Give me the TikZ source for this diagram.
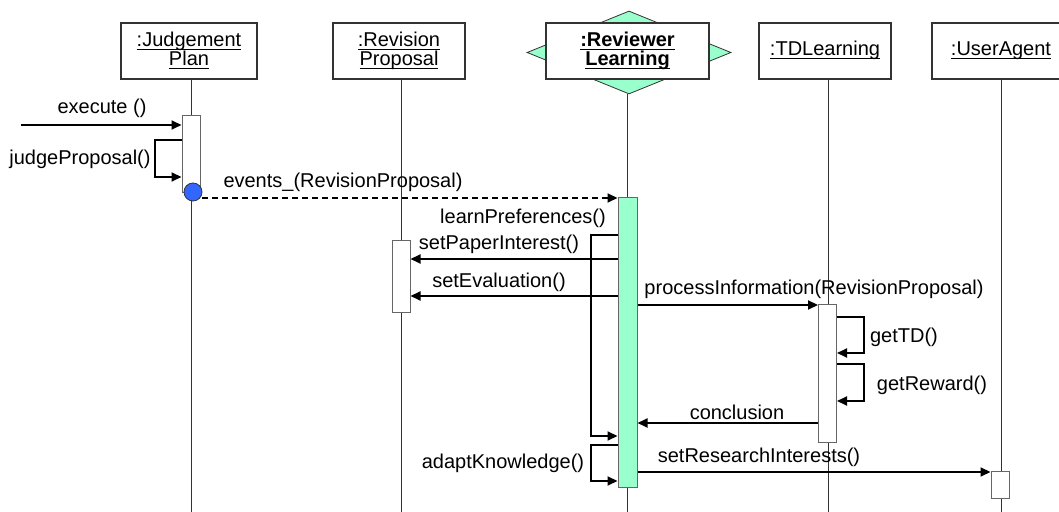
\documentclass[tikz,border=0pt]{standalone}
\usepackage{fontspec}
\setmainfont{Liberation Sans}
\usetikzlibrary{arrows.meta,shapes.geometric}
\definecolor{mint}{RGB}{153,255,204}
\definecolor{dotblue}{RGB}{51,102,255}
\newcommand{\uname}[1]{\underline{\smash{#1}\vphantom{A}}}

\begin{document}
\begin{tikzpicture}[
  x=0.5pt, y=-0.5pt,
  objnode/.style={rectangle, draw=black!80, fill=white, minimum height=28pt, inner sep=0pt, align=center, line width=0.6pt, font=\fontsize{10}{9.5}\selectfont},
  actnode/.style={rectangle, draw=black!60, fill=white, minimum width=9pt, inner sep=0pt, line width=0.5pt},
  labelnode/.style={inner sep=1pt},
  lifeline/.style={draw=black!80, line width=0.5pt},
  msg/.style={line width=1pt, -{Triangle[length=5pt,width=4.5pt]}}
  ]
  \useasboundingbox (0,0) rectangle (1059,512);
  \clip (0,0) rectangle (1059,512);

  % Objects
  \node[diamond, draw=black!80, fill=mint, minimum width=102pt, minimum height=41.5pt, inner sep=0pt] (RLdia) at (629,52.5) {};
  \node[objnode, minimum width=68pt]    (JP)    at (189,51)    {\uname{:Judgement}\\\uname{Plan}};
  \node[objnode, minimum width=66pt]    (RP)    at (399,51)    {\uname{:Revision}\\\uname{Proposal}};
  \node[objnode, minimum width=81.5pt]  (RL)    at (627.5,51)  {\textbf{\uname{:Reviewer}}\\\textbf{\uname{Learning}}};
  \node[objnode, minimum width=66pt]    (TD)    at (825,51)    {\uname{:TDLearning}};
  \node[objnode, minimum width=69pt]    (UA)    at (1001,51)   {\uname{:UserAgent}};

  % Lifelines
  \foreach \n/\x in {JP/191, RP/401, RL/627, TD/828, UA/1001} {
    \coordinate (\n-bot) at (\x,512);
  }
  \foreach \n in {JP, RP, TD, UA} {
    \draw[lifeline] (\n.south -| \n-bot) -- (\n-bot);
  }
  \draw[lifeline] (RLdia.south -| RL-bot) -- (RL-bot);

  % Activations
  \node[actnode, minimum height=38.5pt]                   (aJP)   at (191,154.5)  {};
  \node[actnode, minimum height=36pt]                     (aRP)   at (401,277)    {};
  \node[actnode, fill=mint, minimum width=9.5pt, minimum height=145pt] (aRL) at (627.5,343) {};
  \node[actnode, minimum height=69pt]                     (aTD)   at (827.5,374)  {};
  \node[actnode, minimum height=13pt]                     (aUA)   at (1000,485)   {};
  \node[circle, draw=black!80, fill=dotblue, minimum size=9pt, inner sep=0pt] (dot) at (193,192) {};

  % Message rows
  \coordinate (ext) at (21,125);
  \coordinate (r2)  at (0,140);
  \coordinate (r3)  at (0,177);
  \coordinate (r4)  at (0,198);
  \coordinate (r5)  at (0,235);
  \coordinate (r6)  at (0,259);
  \coordinate (r7)  at (0,296);
  \coordinate (r8)  at (0,305);
  \coordinate (r9)  at (0,317);
  \coordinate (r10) at (0,353);
  \coordinate (r11) at (0,364);
  \coordinate (r12) at (0,401);
  \coordinate (r13) at (0,423);
  \coordinate (r14) at (0,436);
  \coordinate (r15) at (0,445);
  \coordinate (r16) at (0,472);
  \coordinate (r17) at (0,481);

  % Messages
  \draw[msg] (ext) -- (aJP.west |- ext);
  \draw[msg] (aJP.west |- r2) -- ++(-27,0) |- (aJP.west |- r3);
  \draw[msg, dash pattern=on 3pt off 2pt] (dot.east |- r4) -- (aRL.west |- r4);
  \draw[msg] (aRL.west |- r5) -- ++(-27,0) |- (aRL.west |- r14);
  \draw[msg] (aRL.west |- r6) -- (aRP.east |- r6);
  \draw[msg] (aRL.west |- r7) -- (aRP.east |- r7);
  \draw[msg] (aRL.east |- r8) -- (aTD.west |- r8);
  \draw[msg] (aTD.east |- r9) -- ++(27,0) |- (aTD.east |- r10);
  \draw[msg] (aTD.east |- r11) -- ++(27,0) |- (aTD.east |- r12);
  \draw[msg] (aTD.west |- r13) -- (aRL.east |- r13);
  \draw[msg] (aRL.west |- r15) -- ++(-27,0) |- (aRL.west |- r17);
  \draw[msg] (aRL.east |- r16) -- (aUA.west |- r16);

  % Message labels
  \node[labelnode]  (lexec)   at (102,108)  {execute ()};
  \node[labelnode]  (ljudge)  at (80,159)   {judgeProposal()};
  \node[labelnode]  (levents) at (343,182)  {events\_(RevisionProposal)};
  \node[labelnode]  (llearn)  at (523,218)  {learnPreferences()};
  \node[labelnode]  (lpaper)  at (499,244)  {setPaperInterest()};
  \node[labelnode]  (leval)   at (499,282)  {setEvaluation()};
  \node[labelnode]  (lproc)   at (814,289)  {processInformation(RevisionProposal)};
  \node[labelnode]  (ltd)     at (904,337)  {getTD()};
  \node[labelnode]  (lrew)    at (932,385)  {getReward()};
  \node[labelnode]  (lconc)   at (737,412)  {conclusion};
  \node[labelnode]  (ladapt)  at (503,463)  {adaptKnowledge()};
  \node[labelnode]  (lres)    at (759,457)  {setResearchInterests()};

\end{tikzpicture}
\end{document}
